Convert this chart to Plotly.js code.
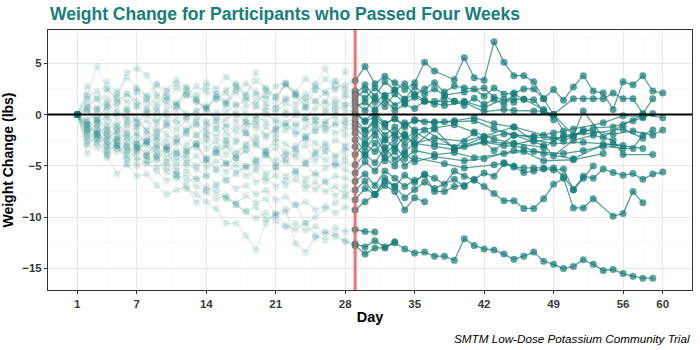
<!DOCTYPE html>
<html>
<head>
<meta charset="utf-8">
<script src="https://cdn.plot.ly/plotly-3.0.1.min.js"></script>
<style>
  html, body { margin: 0; padding: 0; background: #ffffff; }
  #chart { width: 700px; height: 350px; }
</style>
</head>
<body>
<div id="chart"></div>
<script>
// ---------------- DATA ----------------
// Each participant: weight change (lbs) for days 1-28 (first four weeks, faded),
// then days 29 onward (after passing four weeks, solid). null = no weigh-in that day.
const n = null;
const CUTOFF_DAY = 29;

const p01_wk1_4 = [0,1.5,2.3,1.0,2.0,1.2,2.5,1.8,1.0,2.2,3.0,2.0,1.5,2.7,2.0,1.0,2.4,3.0,2.2,1.5,2.8,3.1,2.0,1.3,2.5,3.5,2.6,2.9];
const p01_after = [3.3,4.7,3.0,3.75,3.1,2.45,3.1,5.1,4.25,n,3.4,5.55,3.6,3.35,7.1,5.1,3.8,3.8,3.2,1.55,0,-1.6];

const p02_wk1_4 = [0,2.0,4.7,2.5,1.6,4.1,4.5,3.85,2.0,1.4,2.6,1.9,2.8,2.2,1.5,2.4,3.0,1.8,4.1,2.5,1.7,2.9,2.0,1.6,3.0,4.5,2.4,4.2];
const p02_after = [2.3,1.6,2.6,1.8,2.4,3.0,1.9,2.5,3.1,2.2,2.8,2.6,2.5,1.8,2.6,2.0,2.1,2.5,2.5,1.55,2.45,1.4,2.7,3.8,2.3,2.1,0.5,3.2,2.9,3.8,2.3,2.1];

const p03_wk1_4 = [0,1.0,0.5,1.6,0.8,2.0,1.3,0.6,1.7,1.1,0.4,1.9,1.2,0.7,1.5,2.1,0.9,1.4,2.0,1.0,0.6,1.5,1.9,0.8,1.3,2.2,1.0,1.8];
const p03_after = [1.6,2.4,1.2,1.9,0.9,1.5,2.0,1.4,1.0,1.8,1.3,0.9,1.6,1.0,1.5,1.0,2.0,1.5,1.45,0.3,0.0,n,1.55,1.55,1.55,1.55,2.1,1.55,1.55,0.1,1.55];

const p04_wk1_4 = [0,0.6,-0.4,1.0,0.2,-0.5,0.8,0.0,-0.8,0.5,1.2,-0.2,0.4,0.9,-0.6,0.3,1.0,0.1,-0.4,0.7,0.2,1.1,0.5,-0.3,0.6,1.3,0.4,0.9];
const p04_after = [0.8,1.2,0.5,1.4,0.4,1.0,0.6,1.3,n,0.9,n,1.2,n,0.3,n,0.5,0.4,n,0.35,0.35,0,n,-2.0,0.35,n,-2.2,n,-1.0,n,0.0,n,-0.3];

const p05_wk1_4 = [0,-0.5,0.4,-1.0,0.2,-0.3,-1.2,0.5,-0.6,0.1,-0.9,-0.2,0.3,-0.7,-1.3,-0.4,0.2,-0.8,-1.0,0.0,-0.5,-1.1,0.1,-0.6,-0.2,-0.9,0.3,-0.4];
const p05_after = [0,-0.6,0.3,-0.9,-0.4,-1.2,-0.5,n,-0.8,n,-0.6,n,-0.3,n,-0.9,n,-1.2,n,n,-2.0,n,-2.6,n,-1.5,n,n,-1.9,n,-1.6,n,-2.0,-1.5];

const p06_wk1_4 = [0,-1.0,-0.3,-1.5,-0.8,-2.0,-1.2,-0.6,-1.8,-1.1,-2.2,-1.4,-0.9,-1.6,-2.1,-1.0,-1.7,-0.7,-1.3,-2.0,-1.5,-0.8,-1.9,-1.2,-0.6,-1.4,-1.0,-0.7];
const p06_after = [-0.5,-1.5,-0.8,-2.0,-1.2,-2.4,-1.7,n,-2.8,n,n,-3.1,n,-2.6,n,n,-2.9,n,-2.5,n,-2.8,n,n,-2.7,n,n,-2.9,n,n,-3.3];

const p07_wk1_4 = [0,-1.8,-1.0,-2.4,-1.5,-0.8,-2.0,-2.6,-1.3,-1.9,-2.8,-1.6,-1.0,-2.2,-1.4,-2.5,-1.1,-1.8,-2.6,-1.2,-2.0,-1.5,-0.9,-2.1,-1.6,-1.0,-1.8,-1.4];
const p07_after = [-1.3,-2.2,-1.0,-2.5,-1.8,-3.0,-2.2,-1.5,n,n,-3.2,n,-1.8,n,-3.5,n,-2.0,n,n,-3.0,-4.0,n,-2.5,n,-2.0,n,-2.5,-3.9,n,n,-3.9];

const p08_wk1_4 = [0,-2.5,-1.6,-3.0,-2.2,-3.5,-2.8,-1.9,-3.2,-2.4,-3.8,-2.9,-2.0,-3.3,-2.6,-3.9,-2.7,-1.8,-3.0,-3.6,-2.3,-2.9,-3.4,-2.1,-2.8,-3.5,-2.5,-3.0];
const p08_after = [-2.45,-3.5,-2.0,-3.8,-3.0,-4.3,-3.5,n,-3.9,n,-3.7,n,-4.2,n,n,-3.8,n,-3.6,n,-4.5,n,n,-4.4,n,n,-3.8];

const p09_wk1_4 = [0,-3.0,-2.0,-3.8,-2.8,-4.3,-3.5,-2.5,-4.0,-3.2,-4.5,-3.6,-2.8,-4.2,-3.4,-4.8,-3.9,-3.0,-4.4,-3.6,-5.0,-4.1,-3.3,-4.6,-3.8,-3.0,-4.2,-3.5];
const p09_after = [-3.1,-4.0,-2.8,-4.5,-3.6,-5.0,-4.2,n,n,-4.8,n,-5.2,n,n,-4.9,-4.7,-5.0,-5.65,-5.5,-5.3,-5.4,-5.3,-7.3,-6.0,-6.2,-5.3,-5.65,-5.9,-5.75,-6.3,-5.8,-5.6];

const p10_wk1_4 = [0,-2.0,-3.2,-4.0,-5.8,-4.9,-6.0,-5.8,-6.9,-7.8,-7.35,-7.0,-8.6,-7.0,-7.6,-8.1,-8.6,-7.9,-8.6,-8.2,-9.8,-9.5,-8.8,-10.6,-10.0,-9.2,-8.6,-8.0];
const p10_after = [-8.3,-7.2,-7.8,-6.5,-7.0,-5.9,-6.6,-5.8,-6.2,-6.8,-5.5,-6.0,-6.4,-7.0,-7.7,-8.4,-8.4,-9.15,-9.15,-8.2,-6.8,-6.2,-9.1,-9.1,-8.2,n,-9.9,-9.65,-7.5,-8.6];

const p11_wk1_4 = [0,-1.5,-2.8,-3.5,-3.0,-4.2,-5.0,-4.6,-5.5,-6.4,-6.0,-7.2,-7.8,-8.5,-9.2,-10.6,-10.6,-11.8,-13.2,-10.6,-9.6,-9.2,-12.6,-13.4,-12.0,-11.4,-11.9,-12.4];
const p11_after = [-12.75,-13.6,-13.0,-13.0,-12.5,-13.1,-13.5,-13.4,-13.8,-13.8,-14.2,-12.1,-12.75,-13.1,-13.2,-13.6,-14.1,-13.8,-13.4,-14.3,-14.6,-15.0,-14.8,-14.15,-14.6,-15.2,-15.1,-15.5,-15.75,-15.95,-15.95];

const p12_wk1_4 = [0,-1.0,-2.2,-1.6,-3.0,-3.8,-3.2,-4.4,-4.0,-5.2,-5.8,-6.5,-6.2,-7.4,-7.0,-8.2,-8.8,-9.4,-9.0,-10.2,-9.8,-10.8,-11.2,-10.6,-11.8,-12.2,-11.6,-12.3];
const p12_after = [-12.6,-12.9,-12.3,-12.9,-12.4];

const p13_wk1_4 = [0,-0.8,-1.9,-2.5,-3.3,-2.9,-4.1,-4.8,-4.3,-5.6,-6.2,-5.9,-7.0,-7.6,-8.2,-7.9,-8.8,-9.5,-10.1,-9.6,-10.4,-11.0,-10.6,-11.3,-10.9,-11.6,-11.0,-11.4];
const p13_after = [-11.2,-11.4,-11.45];

const p14_wk1_4 = [0,-1.2,-2.0,-2.9,-3.6,-3.1,-4.5,-4.0,-5.1,-4.7,-5.8,-5.4,-6.3,-5.9,-6.8,-6.4,-7.2,-6.9,-7.8,-7.4,-8.3,-8.0,-8.8,-8.5,-9.3,-8.9,-9.6,-9.0];
const p14_after = [-9.3,-8.5,-7.8,-6.9,-7.5,-9.3,-8.1,-8.5];

const p15_wk1_4 = [0,-2.2,-1.5,-3.0,-2.4,-3.6,-2.9,-4.0,-3.3,-4.6,-3.8,-4.2,-5.0,-4.4,-5.3,-4.7,-5.6,-5.0,-4.5,-5.8,-5.2,-6.0,-5.5,-6.3,-5.7,-6.6,-6.0,-6.2];
const p15_after = [-6.5,-5.8,-6.9,-5.5,-6.2,-7.0,-6.4,-5.9,-7.5,-7.5,-7.0,-6.9,-6.3,-5.7,-6.0,-4.8,-5.1,-5.2,-5.2,-5.2,-5.2,-6.0,-7.35,-6.2,-5.0];

const p16_wk1_4 = [0,-1.6,-0.9,-2.3,-1.7,-3.1,-2.5,-3.7,-3.0,-4.1,-3.5,-4.7,-4.0,-5.2,-4.5,-5.6,-4.9,-6.0,-5.4,-6.5,-5.9,-6.9,-6.3,-7.2,-6.6,-7.5,-7.0,-7.7];
const p16_after = [-7.35,-6.5,-7.8,-6.2,-7.0,-8.1,-7.3,-6.6,-7.2,n,-6.3,-7.0];

const p17_wk1_4 = [0,-0.9,-1.8,-1.2,-2.5,-1.9,-3.2,-2.6,-3.8,-3.0,-4.1,-3.4,-2.9,-4.4,-3.7,-4.8,-4.2,-5.2,-4.6,-3.9,-5.0,-4.4,-5.5,-4.8,-5.9,-5.2,-4.7,-5.4];
const p17_after = [-5.7,-4.6,-5.5,-4.2,-5.0,-3.8,-4.6,n,-4.1,n,n,-4.5,n,-4.3,n,n,-3.5,n,-3.6,n,n,-3.8,n,-3.5,n,-3.1,n,-3.3,-3.3,-2.0,-1.5];

const p18_wk1_4 = [0,-1.3,-0.5,-2.0,-1.1,-2.6,-1.8,-3.0,-2.2,-3.5,-2.7,-1.9,-3.2,-2.5,-3.8,-3.1,-4.2,-3.4,-2.8,-3.9,-4.5,-3.6,-4.1,-4.8,-3.9,-4.4,-5.0,-4.6];
const p18_after = [-4.9,-3.9,-4.7,-3.2,-4.4,-3.6,-2.8,n,-3.1,n,-3.4,n,n,-2.2,n,-1.9,n,n,-2.1,n,-1.8,n,-1.4,n,n,-0.8,n,-0.1,n,-0.2];

const p19_wk1_4 = [0,-1.5,-2.5,-1.8,-3.0,-2.2,-3.4,-2.6,-1.7,-3.1,-2.4,-3.6,-2.8,-1.9,-3.3,-2.5,-3.7,-2.9,-2.1,-3.5,-2.7,-3.9,-3.0,-2.3,-3.6,-2.8,-4.0,-3.2];
const p19_after = [-3.9,-2.9,-3.6,-2.4,-3.3,-2.0,-2.8,n,-2.3,n,n,-2.6,n,-2.1,n,n,-1.2,n,-2.6,n,n,-2.2,n,-1.7];

const p20_wk1_4 = [0,0.8,1.6,0.4,1.2,2.0,0.9,1.5,0.3,1.8,1.0,2.4,1.3,0.6,1.7,1.1,2.2,0.8,1.4,1.9,0.7,1.6,1.0,2.0,1.3,0.5,1.5,1.0];
const p20_after = [1.2,0.4,1.6,0.8,2.0,1.1,1.7,1.3,1.3,1.3,1.3,1.3,n,0.7,n,1.5,1.5,1.5,n,0.5,-0.5];

const p21_wk1_4 = [0,0.3,-0.6,0.8,-0.2,0.5,-0.9,0.2,0.7,-0.4,0.9,0.1,-0.7,0.6,-0.3,1.0,0.0,-0.5,0.8,0.3,-0.8,0.4,-0.1,0.7,-0.6,0.2,0.9,0.4];
const p21_after = [0.3,-0.7,-0.2,-0.9,-0.4,-1.0,-0.6,-0.7,-0.7,-0.7,-0.7,n,-0.6,n,-1.4,n,-2.0,n,-2.2,n,-2.3,n,-2.1,n,-1.3,n,-1.2,n,-0.6,-0.3,0.1];

const p22_wk1_4 = [0,-0.6,-1.4,-0.3,-1.9,-1.0,-0.4,-1.6,-2.3,-0.8,-1.5,-0.5,-2.0,-1.2,-0.7,-1.8,-2.5,-1.1,-0.6,-2.2,-1.4,-0.9,-1.7,-2.4,-1.0,-1.6,-0.8,-2.0];
const p22_after = [-1.8,-2.8,-1.6,-3.3,-2.4,-1.9,-3.0,n,-1.4,n,-3.4,n,n,-2.7,n,-3.0,n,-3.2,n,-3.8,n,n,-4.3,n,n,-2.9,n,-3.0];

const p23_wk1_4 = [0,0.5,-0.8,-0.1,-1.3,0.3,-0.6,-1.5,0.1,-1.0,-0.4,-1.7,-0.2,-0.9,0.2,-1.2,-0.5,-1.8,-0.1,-0.7,-1.4,0.0,-1.1,-0.3,-1.6,-0.6,-0.2,-1.0];
const p23_after = [-0.9,-1.6,-0.4,-1.2,-2.0,-0.8,-1.5,n,-1.3,n,-1.0,n,-1.7,n,-2.4,n,-2.8,n,n,-3.2,n,-2.0,n,n,-1.8,n,n,-1.4,n,-2.3];

const p24_wk1_4 = [0,2.8,1.5,3.2,2.2,3.6,2.6,1.8,3.0,2.4,3.4,2.7,1.9,3.1,2.5,3.7,2.9,2.0,3.3,2.6,1.8,3.0,2.2,3.5,2.8,2.1,3.2,2.5];
const p24_after = [2.0,2.9,1.8,3.2,2.4,1.5,2.7,2.0,2.5,1.9,n,2.2,n,2.6,1.7,n,1.2];
const p25_wk1_4 = [0,-3.8,-2.5,-4.2,-3.0,-4.8,-3.6,-2.8,-4.4,-3.4,-5.0,-3.9,-3.0,-4.6,-3.7,-2.9,-4.3,-3.5,-5.1,-4.0,-3.2,-4.7,-3.8,-3.0,-4.5,-3.6,-4.9,-4.1];
const p25_after = [];
const p26_wk1_4 = [0,1.8,0.6,2.5,1.4,0.5,2.2,1.2,2.9,1.7,0.8,2.6,1.5,0.4,2.0,1.3,2.7,1.6,0.9,2.3,1.4,3.0,1.8,0.7,2.4,1.1,3.3,2.0];
const p26_after = [];
const p27_wk1_4 = [0,-2.8,-1.9,-3.5,-2.4,-1.5,-3.0,-4.0,-2.6,-3.4,-5.5,-4.8,-5.3,-6.0,-5.4,-6.4,-5.8,-5.0,-6.6,-6.1,-7.0,-6.4,-5.7,-6.8,-7.3,-6.5,-7.9,-7.0];
const p27_after = [];

const participants = [
  [p01_wk1_4, p01_after], [p02_wk1_4, p02_after], [p03_wk1_4, p03_after],
  [p04_wk1_4, p04_after], [p05_wk1_4, p05_after], [p06_wk1_4, p06_after],
  [p07_wk1_4, p07_after], [p08_wk1_4, p08_after], [p09_wk1_4, p09_after],
  [p10_wk1_4, p10_after], [p11_wk1_4, p11_after], [p12_wk1_4, p12_after],
  [p13_wk1_4, p13_after], [p14_wk1_4, p14_after], [p15_wk1_4, p15_after],
  [p16_wk1_4, p16_after], [p17_wk1_4, p17_after], [p18_wk1_4, p18_after],
  [p19_wk1_4, p19_after], [p20_wk1_4, p20_after], [p21_wk1_4, p21_after],
  [p22_wk1_4, p22_after], [p23_wk1_4, p23_after], [p24_wk1_4, p24_after],
  [p25_wk1_4, p25_after], [p26_wk1_4, p26_after], [p27_wk1_4, p27_after]
];

const xTickVals = [1, 7, 14, 21, 28, 35, 42, 49, 56, 60];
const xMinorVals = [4, 10.5, 17.5, 24.5, 31.5, 38.5, 45.5, 52.5, 58];
const yTickVals = [-15, -10, -5, 0, 5];
const yMinorVals = [-12.5, -7.5, -2.5, 2.5, 7.5];

// ---------------- STYLE ----------------
const TEAL = '23,125,119';
const faintCol = 'rgba(' + TEAL + ',0.14)';
const solidCol = 'rgba(' + TEAL + ',0.72)';

const faintTraces = [];
const solidTraces = [];
participants.forEach(([early, later]) => {
  const fx = [], fy = [];
  early.forEach((v, i) => { fx.push(i + 1); fy.push(v); });
  if (later.length && later[0] !== null) { fx.push(CUTOFF_DAY); fy.push(later[0]); }
  faintTraces.push({
    type: 'scatter', mode: 'lines+markers', x: fx, y: fy, connectgaps: true,
    line: { color: faintCol, width: 1.2 },
    marker: { color: faintCol, size: 7 },
    hoverinfo: 'skip', showlegend: false
  });
  if (later.length) {
    const sx = [], sy = [];
    later.forEach((v, i) => { sx.push(CUTOFF_DAY + i); sy.push(v); });
    solidTraces.push({
      type: 'scatter', mode: 'lines+markers', x: sx, y: sy, connectgaps: true,
      line: { color: solidCol, width: 1.3 },
      marker: { color: solidCol, size: 7 },
      hoverinfo: 'skip', showlegend: false
    });
  }
});

const tickFont = { family: 'Liberation Sans, Arial, sans-serif', size: 11.5, color: '#3a3a3a', weight: 'bold' };

const layout = {
  width: 700, height: 350,
  margin: { l: 48, r: 8, t: 30, b: 60 },
  paper_bgcolor: '#ffffff', plot_bgcolor: '#ffffff',
  title: {
    text: 'Weight Change for Participants who Passed Four Weeks',
    font: { family: 'Liberation Sans, Arial, sans-serif', size: 17.5, color: '#177E78', weight: 'bold' },
    xref: 'container', x: 50 / 700, xanchor: 'left',
    yref: 'container', y: 1 - 14 / 350, yanchor: 'middle'
  },
  xaxis: {
    range: [-1.95, 62.95], tickmode: 'array', tickvals: xTickVals,
    ticks: 'outside', ticklen: 3, tickcolor: '#333', tickwidth: 1,
    showgrid: true, gridcolor: '#E8E8E8', gridwidth: 1,
    minor: { tickmode: 'array', tickvals: xMinorVals, showgrid: true, gridcolor: '#F3F3F3', gridwidth: 0.6, ticks: '' },
    zeroline: false, showline: true, mirror: true, linecolor: '#333', linewidth: 1,
    tickfont: tickFont,
    title: { text: 'Day', font: { family: 'Liberation Sans, Arial, sans-serif', size: 14.5, color: '#000', weight: 'bold' }, standoff: 3 }
  },
  yaxis: {
    range: [-17.1, 8.25], tickmode: 'array', tickvals: yTickVals,
    ticks: 'outside', ticklen: 3, tickcolor: '#333', tickwidth: 1,
    showgrid: true, gridcolor: '#E8E8E8', gridwidth: 1,
    minor: { tickmode: 'array', tickvals: yMinorVals, showgrid: true, gridcolor: '#F3F3F3', gridwidth: 0.6, ticks: '' },
    zeroline: false, showline: true, mirror: true, linecolor: '#333', linewidth: 1,
    tickfont: tickFont,
    title: { text: 'Weight Change (lbs)', font: { family: 'Liberation Sans, Arial, sans-serif', size: 14, color: '#000', weight: 'bold' }, standoff: 8 }
  },
  shapes: [
    { type: 'line', layer: 'above', xref: 'x', yref: 'paper', x0: CUTOFF_DAY, x1: CUTOFF_DAY, y0: 0, y1: 1,
      line: { color: 'rgba(240,90,90,0.85)', width: 3 } },
    { type: 'line', layer: 'above', xref: 'paper', yref: 'y', x0: 0, x1: 1, y0: 0, y1: 0,
      line: { color: '#000000', width: 2 } }
  ],
  annotations: [
    { text: 'SMTM Low-Dose Potassium Community Trial', xref: 'paper', yref: 'paper',
      x: 1, y: 0, xanchor: 'right', yanchor: 'top', yshift: -40, xshift: 0, showarrow: false,
      font: { family: 'Liberation Sans, Arial, sans-serif', size: 11.7, color: '#000', style: 'italic' } }
  ]
};

Plotly.newPlot('chart', faintTraces.concat(solidTraces), layout, { staticPlot: true, displayModeBar: false });
</script>
</body>
</html>
